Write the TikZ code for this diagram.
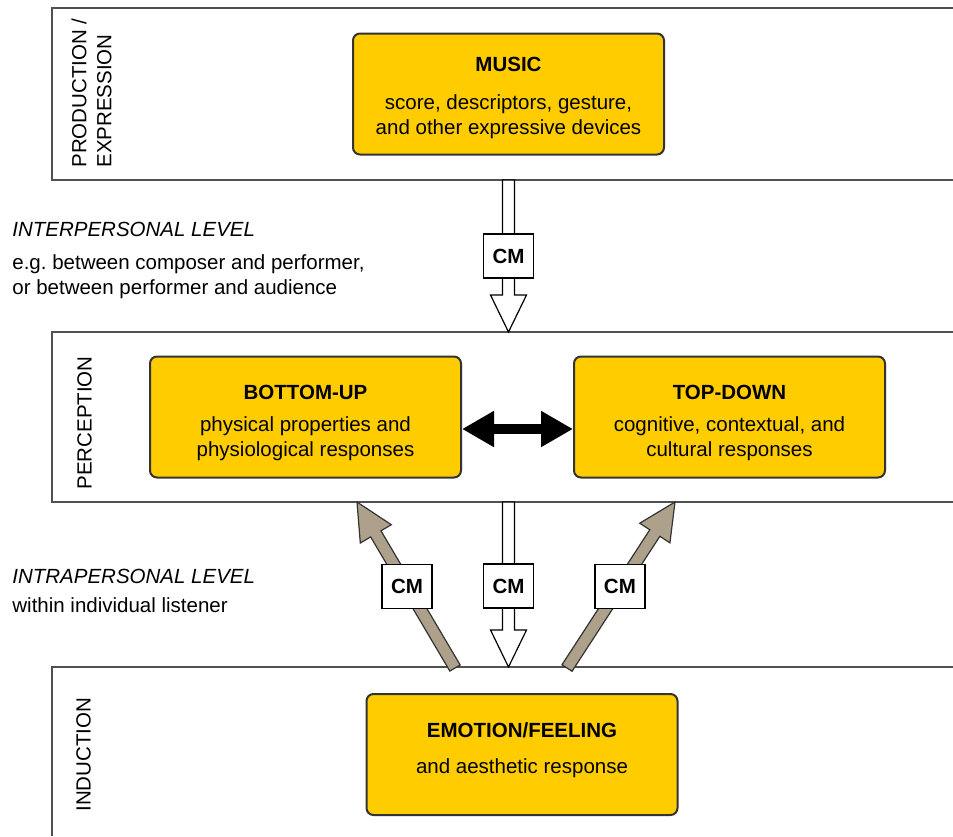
\documentclass[tikz,border=0pt]{standalone}
\usepackage{fontspec}
\setmainfont{Liberation Sans}
\usetikzlibrary{arrows.meta,positioning,calc}
\definecolor{emyellow}{HTML}{FFCC00}
\definecolor{embrown}{HTML}{ADA18C}
\definecolor{emframe}{HTML}{333333}
\definecolor{emband}{HTML}{505050}
\newcommand{\emsize}{\fontsize{10.25}{12.5}\selectfont}
\newcommand{\blockArrow}[3][]{%
  \coordinate (ah) at ($(#3)!18.5pt!(#2)$);
  \draw[#1] ($(#2)!3pt!90:(#3)$) -- ($(ah)!3pt!-90:(#2)$) -- ($(ah)!9pt!-90:(#2)$) -- (#3)
    -- ($(ah)!9pt!90:(#2)$) -- ($(ah)!3pt!90:(#2)$) -- ($(#2)!3pt!-90:(#3)$) -- cycle;
}
\tikzset{
  stageBox/.style={draw=emframe, fill=emyellow, line width=1pt, rounded corners=3.5pt, align=center, minimum width=155.5pt, minimum height=60.5pt, inner sep=0pt, font=\emsize},
  cmBox/.style={draw=black, fill=white, line width=0.75pt, minimum width=25pt, minimum height=22pt, inner sep=0pt, font=\emsize\bfseries},
  bandLine/.style={draw=emband, line width=1pt},
  stageLabel/.style={rotate=90, anchor=north west, inner sep=0pt, align=left, font=\emsize},
  sideText/.style={anchor=north west, inner sep=0pt, align=left, font=\emsize},
  hollowArrow/.style={draw=black, fill=white, line width=0.6pt, line join=miter},
  brownArrow/.style={draw=emframe, fill=embrown, line width=0.6pt, line join=miter},
  bothArrow/.style={{Triangle[length=16pt,width=17pt]}-{Triangle[length=16pt,width=17pt]}, line width=5pt}
}
\begin{document}
\begin{tikzpicture}[x=0.5pt,y=-0.5pt]
  \useasboundingbox (0,0) rectangle (953,836);
  \draw[bandLine] (953,8) -- (52,8) -- (52,180) -- (953,180);
  \draw[bandLine] (953,332) -- (52,332) -- (52,502) -- (953,502);
  \draw[bandLine] (953,667) -- (52,667) -- (52,836);
  \node[stageLabel] (prodLabel) at (71,168) {PRODUCTION /\\EXPRESSION};
  \node[stageLabel] (percLabel) at (77,490) {PERCEPTION};
  \node[stageLabel] (indLabel) at (76,812) {INDUCTION};
  \node[sideText] (interLevel) at (12,222) {\textit{INTERPERSONAL LEVEL}\\[4pt]e.g.\ between composer and performer,\\or between performer and audience};
  \node[sideText] (intraLevel) at (12,569) {\textit{INTRAPERSONAL LEVEL}\\[2pt]within individual listener};
  \node[stageBox] (music) at (508.5,94) {\rule{0pt}{11.5pt}\textbf{MUSIC}\\[6.5pt]score, descriptors, gesture,\\and other expressive devices};
  \node[stageBox] (bottomUp) at (305.5,417) {\rule{0pt}{13.5pt}\textbf{BOTTOM-UP}\\[3.5pt]physical properties and\\physiological responses};
  \node[stageBox] (topDown) at (729.5,417) {\rule{0pt}{13.5pt}\textbf{TOP-DOWN}\\[3.5pt]cognitive, contextual, and\\cultural responses};
  \node[stageBox] (emotion) at (522,754.5) {\textbf{EMOTION/FEELING}\\[5.5pt]and aesthetic response\rule[-6.2pt]{0pt}{0pt}};
  \coordinate (prodOut) at (508.5,180);
  \coordinate (percIn) at (508.5,332);
  \coordinate (percOut) at (508.5,502);
  \coordinate (indIn) at (508.5,667);
  \coordinate (indLeft) at (455,668);
  \coordinate (bottomIn) at (357,502);
  \coordinate (indRight) at (567,668);
  \coordinate (topIn) at (675,502);
  \blockArrow[hollowArrow]{prodOut}{percIn}
  \blockArrow[hollowArrow]{percOut}{indIn}
  \blockArrow[brownArrow]{indLeft}{bottomIn}
  \blockArrow[brownArrow]{indRight}{topIn}
  \node[cmBox] (cmInter) at ($(prodOut)!0.5!(percIn)$) {CM};
  \node[cmBox] (cmUp) at ($(indLeft)!0.49!(bottomIn)$) {CM};
  \node[cmBox] (cmDown) at ($(percOut)!0.51!(indIn)$) {CM};
  \node[cmBox] (cmTop) at ($(indRight)!0.49!(topIn)$) {CM};
  \draw[bothArrow] ([yshift=-6pt]bottomUp.east) -- ([yshift=-6pt]topDown.west);
\end{tikzpicture}
\end{document}
